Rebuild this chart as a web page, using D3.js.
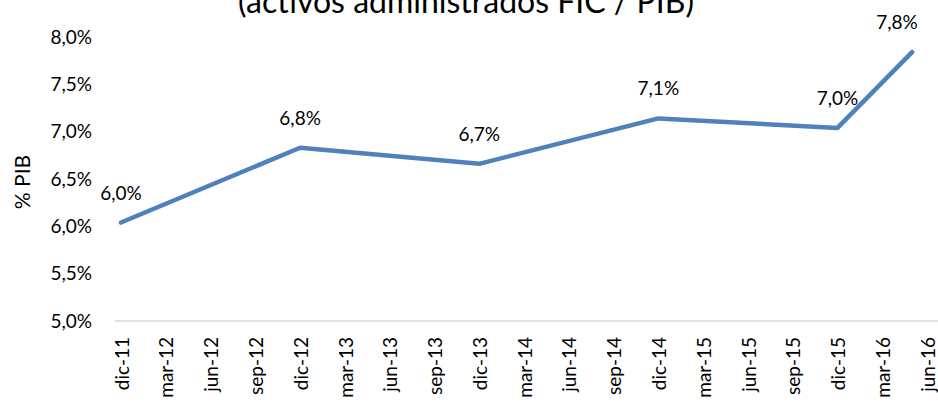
<!DOCTYPE html>
<html><head><meta charset="utf-8">
<script src="https://cdn.jsdelivr.net/npm/d3@7"></script>
<style>
html,body{margin:0;padding:0;background:#fff;}
text{font-family:Lato,"Open Sans",sans-serif;fill:#000;}
</style></head>
<body><svg id="c" width="938" height="408"></svg>
<script>
// Category tick labels (quarterly, months since dic-11)
const tickLabels = ["dic-11","mar-12","jun-12","sep-12","dic-12","mar-13","jun-13","sep-13","dic-13","mar-14","jun-14","sep-14","dic-14","mar-15","jun-15","sep-15","dic-15","mar-16","jun-16"];
const tickMonths = [0,3,6,9,12,15,18,21,24,27,30,33,36,39,42,45,48,51,54];
// Series: month offset since dic-11 and value (% PIB)
const pointMonths = [0,12,24,36,48,53];
const pointValues = [6.04,6.83,6.66,7.14,7.04,7.84];
const yTicks = [5.0,5.5,6.0,6.5,7.0,7.5,8.0];
const title = "(activos administrados FIC / PIB)";
const yTitle = "% PIB";

const svg = d3.select("#c");
const x = d3.scaleLinear().domain([0,54]).range([121,927]);
const y = d3.scaleLinear().domain([5,8]).range([321,37]);
const fmt = v => d3.format(".1f")(v).replace(".",",") + "%";

// title (partially cut at top, as in the reference)
svg.append("text").attr("x",466).attr("y",13).attr("text-anchor","middle")
  .style("font-size","32px").text(title);

// y axis labels
svg.append("g").selectAll("text").data(yTicks).join("text")
  .attr("x",92).attr("y",d=>y(d)).attr("dy","0.35em").attr("text-anchor","end")
  .style("font-size","19px").text(fmt);

// y title
svg.append("text").attr("transform","translate(30,182) rotate(-90)")
  .attr("text-anchor","middle").style("font-size","21px").text(yTitle);

// x axis line
svg.append("line").attr("x1",x(-0.4)).attr("x2",938).attr("y1",y(5)).attr("y2",y(5))
  .attr("stroke","#d9d9d9").attr("stroke-width",1.5);

// x labels
svg.append("g").selectAll("text").data(tickMonths).join("text")
  .attr("transform",d=>`translate(${x(d)+1},337) rotate(-90)`)
  .attr("dy","0.35em").attr("text-anchor","end").style("font-size","19px")
  .text((d,i)=>tickLabels[i]);

// line
const pts = pointMonths.map((m,i)=>({m, v:pointValues[i]}));
svg.append("path").datum(pts)
  .attr("d", d3.line().x(d=>x(d.m)).y(d=>y(d.v)))
  .attr("fill","none").attr("stroke","#4f81bd").attr("stroke-width",4.5)
  .attr("stroke-linecap","round").attr("stroke-linejoin","round");

// data labels
svg.append("g").selectAll("text").data(pts).join("text")
  .attr("x",d=>Math.min(x(d.m), 897)).attr("y",d=>y(d.v)-23)
  .attr("text-anchor","middle").style("font-size","19px")
  .text(d=>fmt(d.v));
</script></body></html>
